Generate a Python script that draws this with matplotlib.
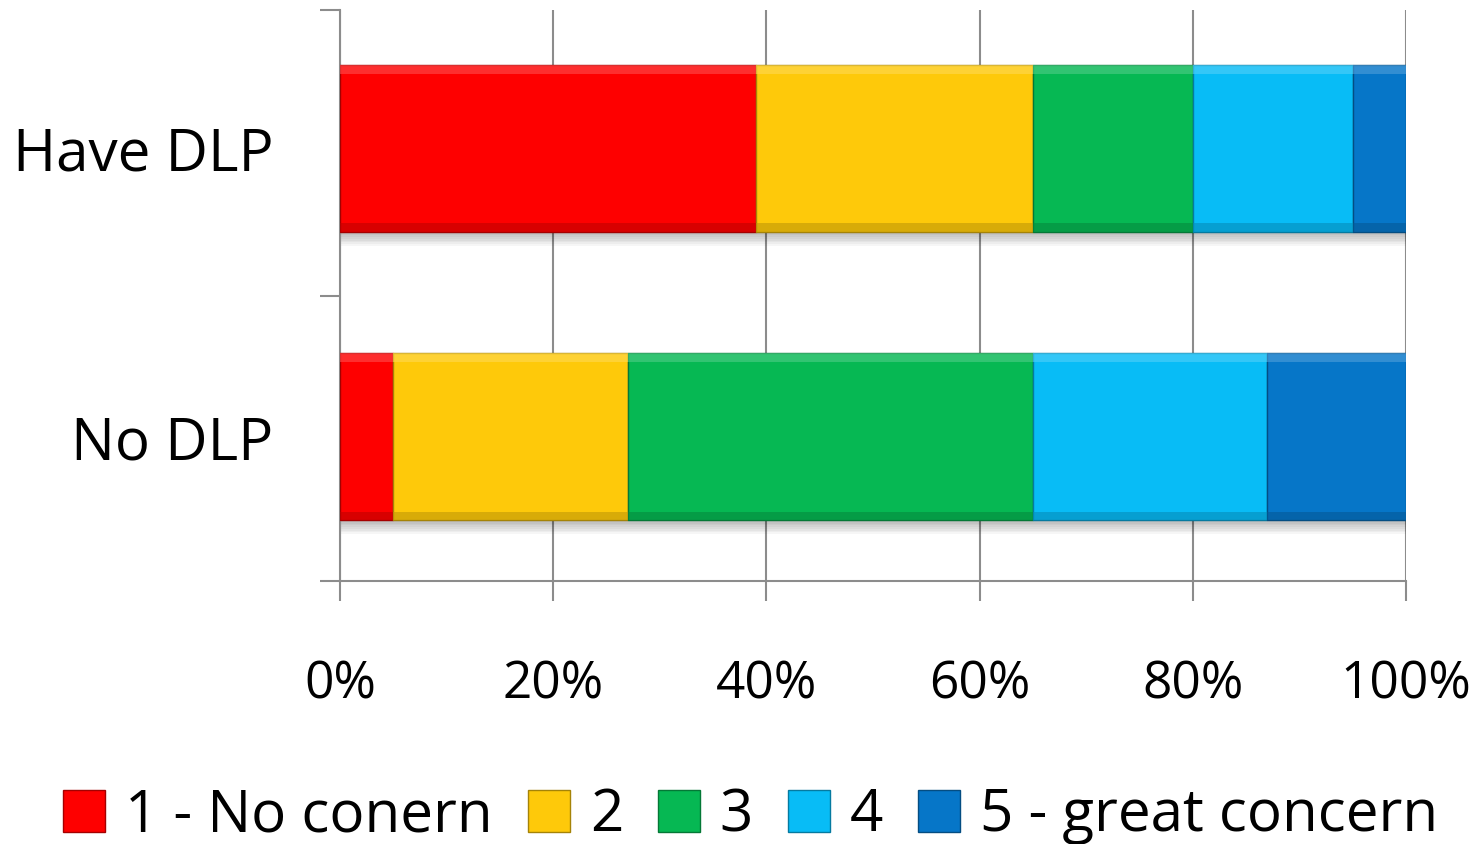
import matplotlib
matplotlib.use("Agg")
import matplotlib.pyplot as plt
import matplotlib.colors as mcolors
from matplotlib.patches import Patch
import numpy as np

# Survey responses: level of concern, percent of respondents
groups = ["Have DLP", "No DLP"]
levels = ["1 - No conern", "2", "3", "4", "5 - great concern"]
have_dlp = [39, 26, 15, 15, 5]
no_dlp = [5, 22, 38, 22, 13]
colors = ["#FE0000", "#FEC90A", "#06B853", "#08BCF6", "#0676C8"]
xticks = [0, 20, 40, 60, 80, 100]
xticklabels = ["0%", "20%", "40%", "60%", "80%", "100%"]

plt.rcParams["font.family"] = ["Open Sans", "DejaVu Sans"]

fig = plt.figure(figsize=(14.81, 8.44), dpi=100)
ax = fig.add_axes([340 / 1481, 1 - 581 / 844, (1406 - 340) / 1481, (581 - 10) / 844])

values = np.array([have_dlp, no_dlp], dtype=float)
ypos = np.array([1.015, 0.005])
height = 0.585
left = np.zeros(len(groups))


def shade(c, f):
    r, g, b = mcolors.to_rgb(c)
    if f >= 0:
        return (r + (1 - r) * f, g + (1 - g) * f, b + (1 - b) * f)
    return (r * (1 + f), g * (1 + f), b * (1 + f))


# soft drop shadow under each full bar
totals = values.sum(axis=1)
for k in range(8):
    off = 0.006 * (k + 1)
    ax.barh(ypos - off, totals, height=height, left=0, color="black",
            alpha=0.035, linewidth=0, zorder=2)

for j, (lvl, col) in enumerate(zip(levels, colors)):
    w = values[:, j]
    ax.barh(ypos, w, height=height, left=left, color=col,
            edgecolor=shade(col, -0.35), linewidth=1.0, zorder=3, label=lvl)
    # bevel: light top band, darker bottom band
    band = 0.03
    ax.barh(ypos + height / 2 - band / 2, w, height=band, left=left,
            color=shade(col, 0.3), linewidth=0, zorder=4, alpha=0.6)
    ax.barh(ypos - height / 2 + band / 2, w, height=band, left=left,
            color=shade(col, -0.25), linewidth=0, zorder=4, alpha=0.6)
    left = left + w

ax.set_xlim(0, 100)
ax.set_ylim(-0.5, 1.5)

grid_col = "#8C8C8C"
ax.set_xticks(xticks)
ax.set_xticklabels(xticklabels, fontsize=37)
ax.xaxis.grid(True, color=grid_col, linewidth=1.5, zorder=0)
ax.set_axisbelow(True)
ax.tick_params(axis="x", length=14.4, width=1.5, color=grid_col, pad=42)

ax.set_yticks([-0.5, 0.5, 1.5])
ax.set_yticklabels([])
ax.set_yticks(ypos, minor=True)
ax.set_yticklabels(groups, minor=True, fontsize=42)
ax.tick_params(axis="y", which="major", length=14.4, width=1.5, color=grid_col)
ax.tick_params(axis="y", which="minor", length=0, pad=48)

for s in ["top", "right"]:
    ax.spines[s].set_visible(False)
for s in ["left", "bottom"]:
    ax.spines[s].set_color(grid_col)
    ax.spines[s].set_linewidth(1.5)

handles = [Patch(facecolor=c, edgecolor=shade(c, -0.35), linewidth=1.0) for c in colors]
fig.legend(handles, levels, loc="lower center", bbox_to_anchor=(0.507, -0.05),
           ncol=5, frameon=False, fontsize=42, handlelength=0.72, handleheight=0.72,
           handletextpad=0.34, columnspacing=0.6, borderpad=0.2)

fig.savefig("out.png", dpi=100)
